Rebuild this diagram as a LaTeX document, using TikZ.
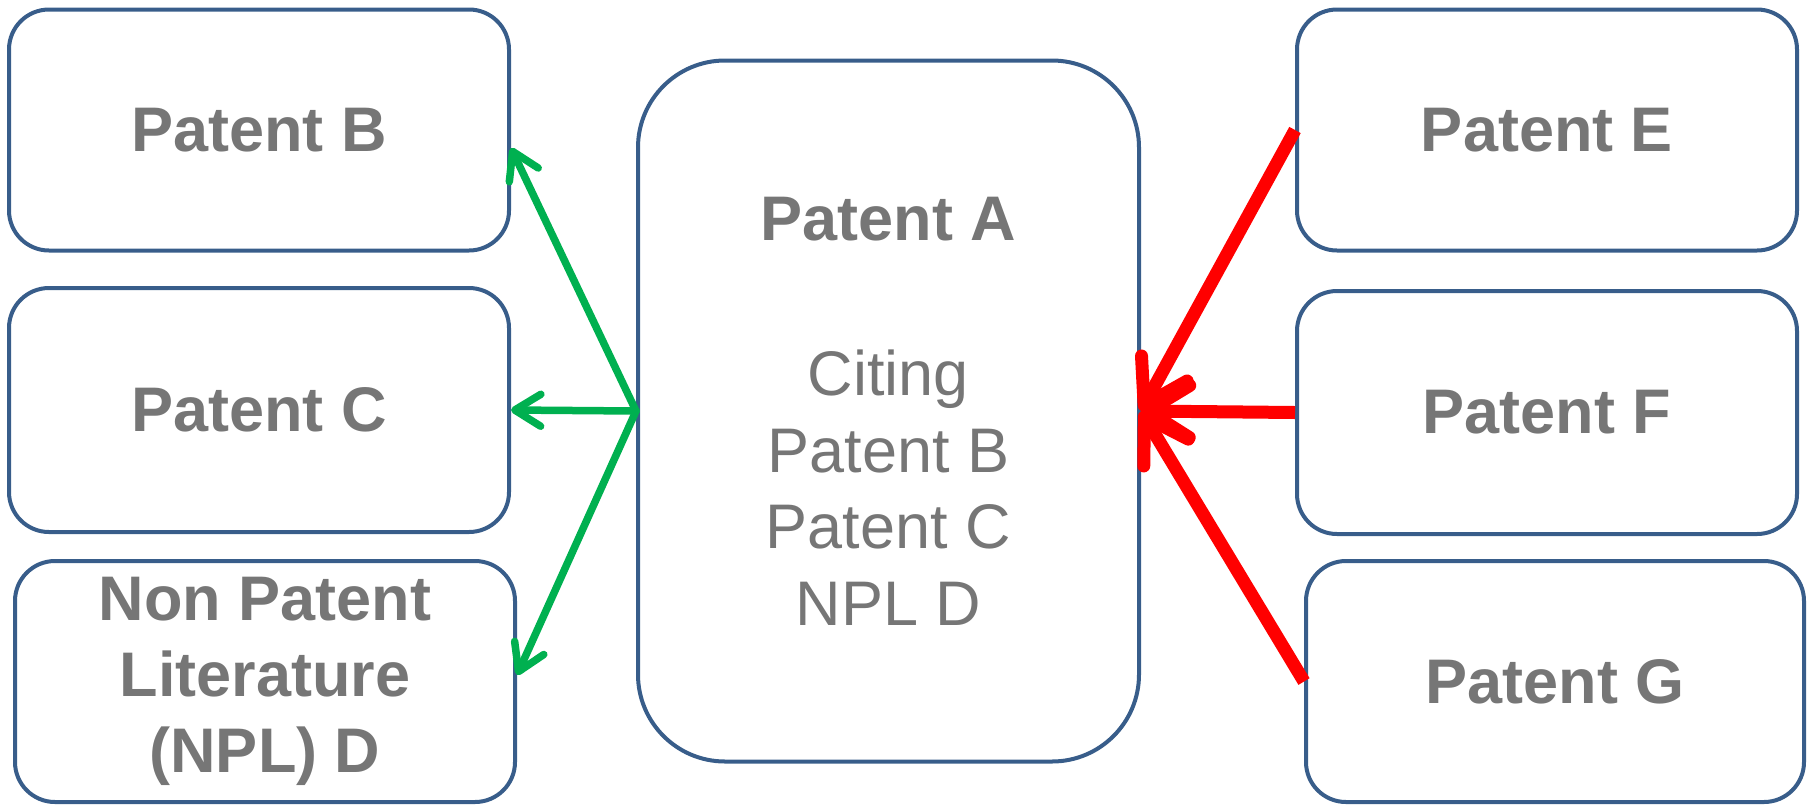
\documentclass[tikz,border=0pt]{standalone}
\usepackage{fontspec}
\setmainfont{Liberation Sans}
\usetikzlibrary{arrows.meta,calc}
\definecolor{boxblue}{RGB}{56,93,138}
\definecolor{txtgray}{RGB}{118,118,118}
\definecolor{citegreen}{RGB}{0,176,80}
\definecolor{citered}{RGB}{255,0,0}
\begin{document}
\begin{tikzpicture}[x=1pt,y=-1pt,
  patbox/.style={draw=boxblue, line width=4pt, rounded corners=40pt,
    minimum width=500pt, minimum height=241pt, inner sep=0pt,
    align=center, text=txtgray,
    font=\fontsize{63}{76}\selectfont\bfseries},
  bigbox/.style={draw=boxblue, line width=4pt, rounded corners=87pt,
    minimum width=501pt, minimum height=701pt, inner sep=0pt,
    align=center, text=txtgray,
    font=\fontsize{63}{76.5}\selectfont},
  citedarrow/.style={draw=citegreen, line width=7.5pt, line cap=round,
    -{Straight Barb[length=26pt,width=32pt,round]}},
  citingarrow/.style={draw=citered, line width=13pt,
    -{Straight Barb[length=42pt,width=52pt,round]}}]
\useasboundingbox (0,0) rectangle (1810,804);
\node[patbox] (B) at (259,130) {Patent B};
\node[patbox, minimum height=244pt] (C) at (259,410) {Patent C};
\node[patbox] (D) at (265,681.5) {Non Patent\\Literature\\(NPL) D};
\node[bigbox] (A) at (888.5,411) {\bfseries Patent A\\[79pt]Citing\\Patent B\\Patent C\\NPL D};
\node[patbox] (E) at (1547,130) {Patent E};
\node[patbox, minimum height=243pt] (F) at (1547,412.5) {Patent F};
\node[patbox, minimum width=498pt] (G) at (1555,681.5) {Patent G};
\draw[citedarrow] (A.west) -- ($(B.east)+(0,18)$);
\draw[citedarrow] (A.west) -- (C.east);
\draw[citedarrow] (A.west) -- ($(D.east)+(0,-6.5)$);
\draw[citingarrow] (E.west) -- (A.east);
\draw[citingarrow] (F.west) -- (A.east);
\draw[citingarrow] (G.west) -- (A.east);
\end{tikzpicture}
\end{document}
